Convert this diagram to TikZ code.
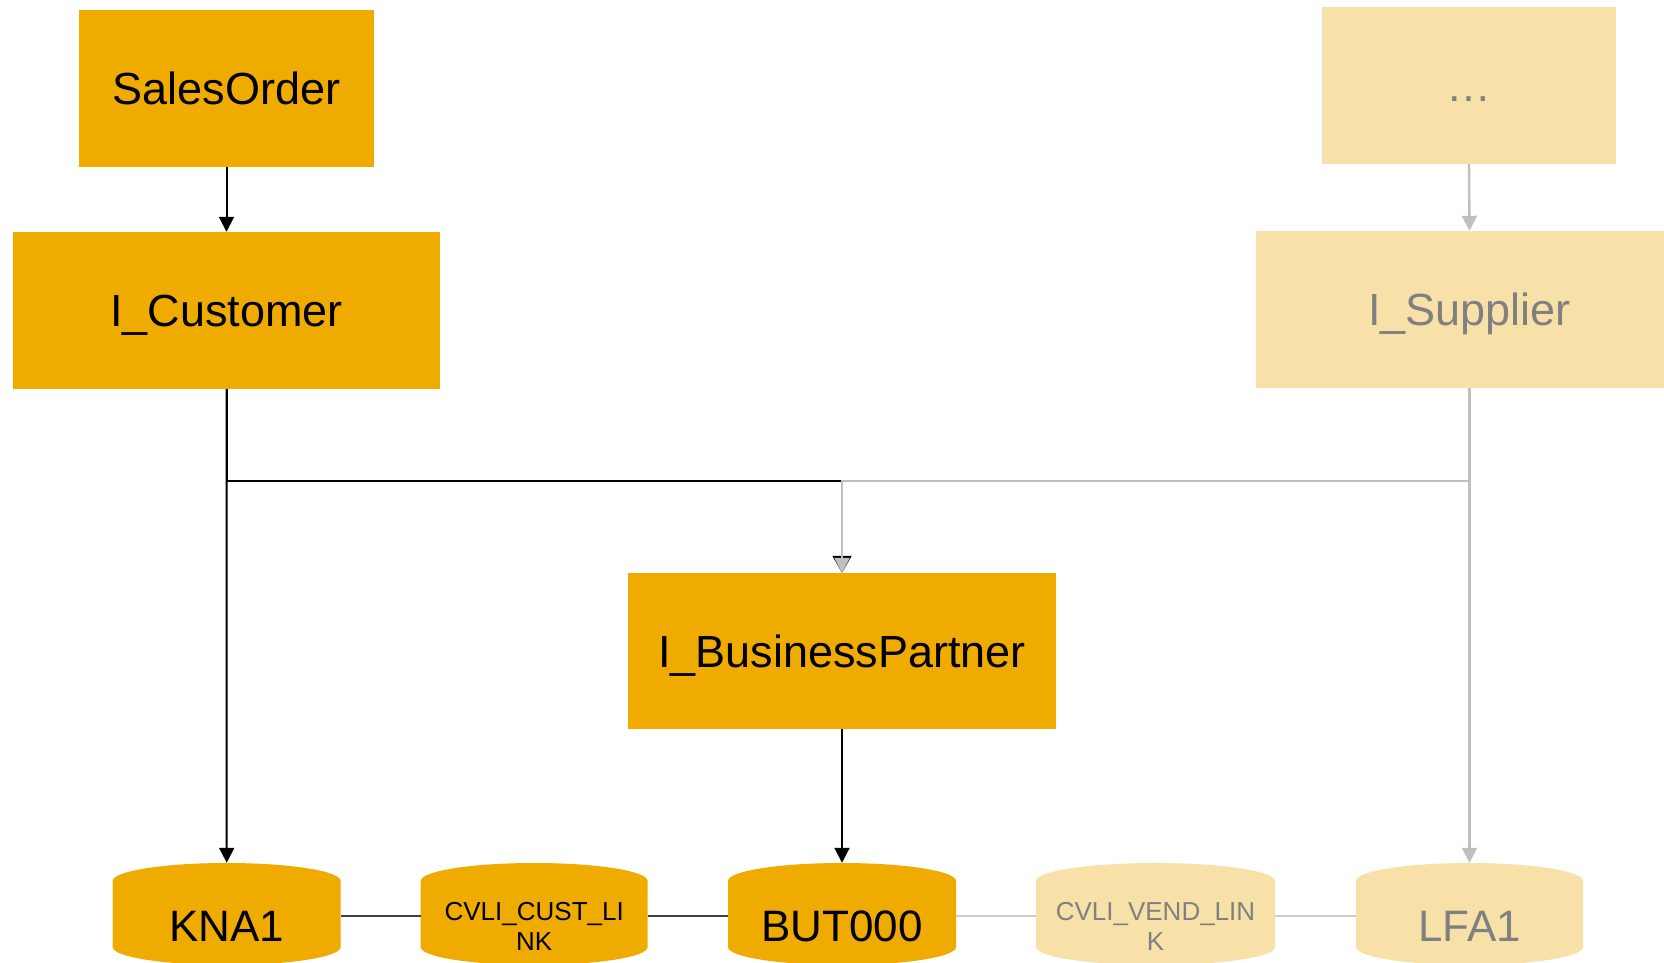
\documentclass[tikz,border=0pt]{standalone}
\usepackage{fontspec}
\setmainfont{Liberation Sans}
\usetikzlibrary{arrows.meta}

\definecolor{sapgold}{HTML}{F0AB00}
\definecolor{sappale}{HTML}{F8E1A8}
\definecolor{greytext}{HTML}{808080}
\definecolor{greyline}{HTML}{BFBFBF}
\definecolor{darkline}{HTML}{404040}
\definecolor{paleline}{HTML}{CCCCCC}

\tikzset{
  view/.style={rectangle, fill=sapgold, inner sep=0pt, minimum height=157pt,
    text height=33pt, text depth=0pt, font=\fontsize{45}{54}\selectfont},
  faded/.style={fill=sappale, text=greytext},
  % database table drawn as a cylinder inside a plain rectangular node
  dbtable/.style 2 args={rectangle, inner sep=0pt, minimum width=#1pt,
    minimum height=126pt,
    path picture={\fill[#2] ([yshift=-18pt]path picture bounding box.north west)
      arc[start angle=180, end angle=0, x radius=#1pt/2, y radius=18pt]
      -- ++(0pt,-66pt)
      arc[start angle=0, end angle=-180, x radius=#1pt/2, y radius=18pt]
      -- cycle;}},
  bigname/.style={font=\fontsize{44}{50}\selectfont},
  smallname/.style={font=\fontsize{26}{30}\selectfont, align=center},
  blk/.style={draw=black, line width=2pt, -{Triangle[width=15pt,length=15pt]}},
  gry/.style={draw=greyline, line width=2.4pt, -{Triangle[width=15pt,length=15pt]}},
  darklink/.style={draw=darkline, line width=1.6pt},
  palelink/.style={draw=paleline, line width=1.6pt},
}

\begin{document}
\begin{tikzpicture}[x=1pt, y=1pt]
  \useasboundingbox (0,0) rectangle (1664,963);
  \clip (0,0) rectangle (1664,963);

  % views
  \node[view, minimum width=295pt] (so)    at (226.5,874.5) {SalesOrder};
  \node[view, minimum width=427pt] (icust) at (226.5,652.5) {I\_Customer};
  \node[view, faded, minimum width=294pt] (dots) at (1469,877.5) {…};
  \node[view, faded, minimum width=427pt] (isup) at (1469.5,653.5) {I\_Supplier};
  \node[view, minimum width=428pt, minimum height=156pt] (bp) at (842,312) {I\_BusinessPartner};

  % database tables
  \node[dbtable={228}{sapgold}, bigname] (kna1) at (226.7,37) {KNA1};
  \node[dbtable={227}{sapgold}, smallname] (ccust) at (534.2,37) {CVLI\_CUST\_LI\\NK};
  \node[dbtable={228}{sapgold}, bigname] (but) at (842,37) {BUT000};
  \node[dbtable={239}{sappale}, smallname, text=greytext] (cvend) at (1155.5,37) {CVLI\_VEND\_LIN\\K};
  \node[dbtable={227}{sappale}, bigname, text=greytext] (lfa1) at (1469.5,37) {LFA1};

  % horizontal level where the branches meet
  \coordinate (bus) at (0,482);

  % links between tables
  \draw[darklink] ([yshift=10pt]kna1.east) -- ([yshift=10pt]ccust.west);
  \draw[darklink] ([yshift=10pt]ccust.east) -- ([yshift=10pt]but.west);
  \draw[palelink] ([yshift=10pt]but.east) -- ([yshift=10pt]cvend.west);
  \draw[palelink] ([yshift=10pt]cvend.east) -- ([yshift=10pt]lfa1.west);

  % customer side
  \draw[blk] (so.south) -- (icust.north);
  \draw[blk] (icust.south) -- (kna1.north);
  \draw[blk, -{Triangle[width=19pt,length=17pt]}] (icust.south) -- (icust.south |- bus) -| (bp.north);
  \draw[blk] (bp.south) -- (but.north);

  % supplier side
  \draw[gry] (dots.south) -- (isup.north);
  \draw[gry] (isup.south) -- (lfa1.north);
  \draw[gry] (isup.south) -- (isup.south |- bus) -| (bp.north);
\end{tikzpicture}
\end{document}
